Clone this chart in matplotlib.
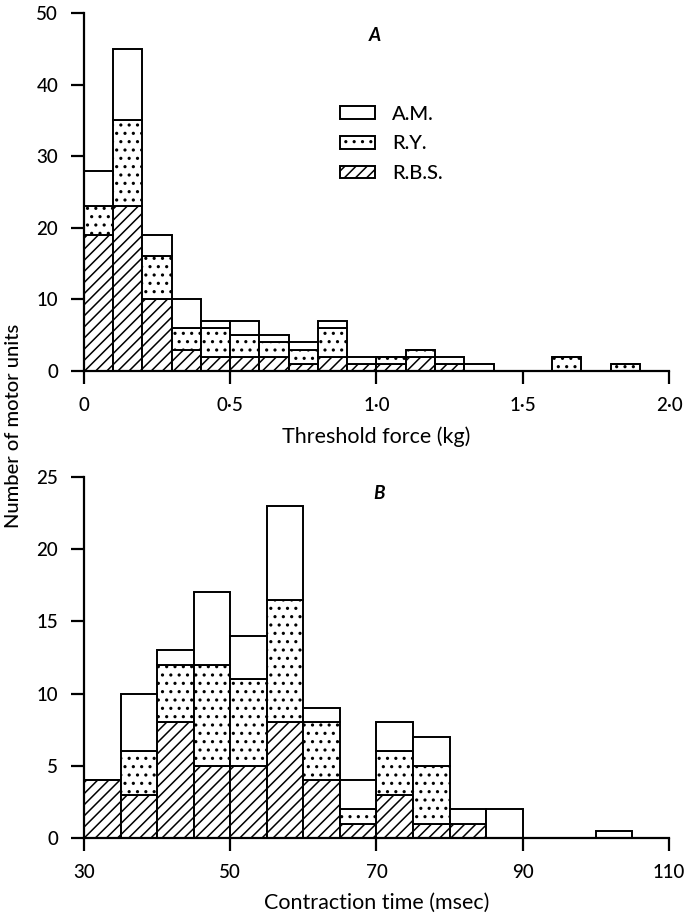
import matplotlib
matplotlib.use("Agg")
import matplotlib.pyplot as plt
from matplotlib.patches import Patch

plt.rcParams['font.family'] = ['Lato', 'DejaVu Sans']
plt.rcParams['font.weight'] = 'medium'
plt.rcParams['hatch.linewidth'] = 1.1

# panel A: threshold force, bins of 0.1 kg
force_bins = [0.0, 0.1, 0.2, 0.3, 0.4, 0.5, 0.6, 0.7, 0.8, 0.9,
              1.0, 1.1, 1.2, 1.3, 1.4, 1.5, 1.6, 1.7, 1.8, 1.9]
force_rbs = [19, 23, 10, 3, 2, 2, 2, 1, 2, 1, 1, 2, 1, 0, 0, 0, 0, 0, 0, 0]
force_ry = [4, 12, 6, 3, 4, 3, 2, 2, 4, 0, 1, 1, 0, 0, 0, 0, 2, 0, 1, 0]
force_am = [5, 10, 3, 4, 1, 2, 1, 1, 1, 1, 0, 0, 1, 1, 0, 0, 0, 0, 0, 0]

# panel B: contraction time, bins of 5 msec
time_bins = [30, 35, 40, 45, 50, 55, 60, 65, 70, 75, 80, 85, 90, 95, 100]
time_rbs = [4, 3, 8, 5, 5, 8, 4, 1, 3, 1, 1, 0, 0, 0, 0]
time_ry = [0, 3, 4, 7, 6, 8.5, 4, 1, 3, 4, 0, 0, 0, 0, 0]
time_am = [0, 4, 1, 5, 3, 6.5, 1, 2, 2, 2, 1, 2, 0, 0, 0.5]

series_names = ["A.M.", "R.Y.", "R.B.S."]

force_ticks = [0, 0.5, 1.0, 1.5, 2.0]
force_ticklabels = ["0", "0·5", "1·0", "1·5", "2·0"]
time_ticks = [30, 50, 70, 90, 110]

edge_kw = dict(edgecolor='black', linewidth=1.4, align='edge')


def stacked(ax, bins, width, rbs, ry, am):
    ry_base = [a for a in rbs]
    am_base = [a + b for a, b in zip(rbs, ry)]
    ax.bar(bins, rbs, width, facecolor='white', hatch='///', **edge_kw)
    ax.bar(bins, ry, width, bottom=ry_base, facecolor='white', hatch='..', **edge_kw)
    ax.bar(bins, am, width, bottom=am_base, facecolor='white', **edge_kw)


def style(ax):
    for s in ['top', 'right']:
        ax.spines[s].set_visible(False)
    for s in ['left', 'bottom']:
        ax.spines[s].set_linewidth(1.6)
    ax.tick_params(direction='out', length=9.5, width=1.6, labelsize=13.5, pad=9)


fig = plt.figure(figsize=(6.9, 9.15), dpi=100)

ax1 = fig.add_axes([0.1217, 0.5945, 0.8479, 0.3913])
stacked(ax1, force_bins, 0.1, force_rbs, force_ry, force_am)
ax1.set_xlim(0, 2.0)
ax1.set_ylim(0, 50)
ax1.set_xticks(force_ticks)
ax1.set_xticklabels(force_ticklabels)
ax1.set_yticks([0, 10, 20, 30, 40, 50])
ax1.set_xlabel("Threshold force (kg)", fontsize=15.5, labelpad=9)
style(ax1)
ax1.text(0.498, 0.936, "A", transform=ax1.transAxes, fontsize=13.5,
         fontstyle='italic', fontweight='bold', ha='center', va='center')

handles = [Patch(facecolor='white', edgecolor='black', linewidth=1.4),
           Patch(facecolor='white', edgecolor='black', linewidth=1.4, hatch='..'),
           Patch(facecolor='white', edgecolor='black', linewidth=1.4, hatch='///')]
ax1.legend(handles, series_names, loc='upper left',
           bbox_to_anchor=(0.4376, 0.741), frameon=False, fontsize=14.5,
           handlelength=1.74, handleheight=0.6, labelspacing=0.63,
           handletextpad=0.85, borderpad=0, borderaxespad=0)

ax2 = fig.add_axes([0.1217, 0.0842, 0.8479, 0.3945])
stacked(ax2, time_bins, 5, time_rbs, time_ry, time_am)
ax2.set_xlim(30, 110)
ax2.set_ylim(0, 25)
ax2.set_xticks(time_ticks)
ax2.set_yticks([0, 5, 10, 15, 20, 25])
ax2.set_xlabel("Contraction time (msec)", fontsize=15.5, labelpad=9)
style(ax2)
ax2.text(0.505, 0.955, "B", transform=ax2.transAxes, fontsize=13.5,
         fontstyle='italic', fontweight='bold', ha='center', va='center')

fig.text(0.02, 0.535, "Number of motor units", rotation=90, fontsize=14.5,
         ha='center', va='center')

fig.savefig("out.png", dpi=100)
